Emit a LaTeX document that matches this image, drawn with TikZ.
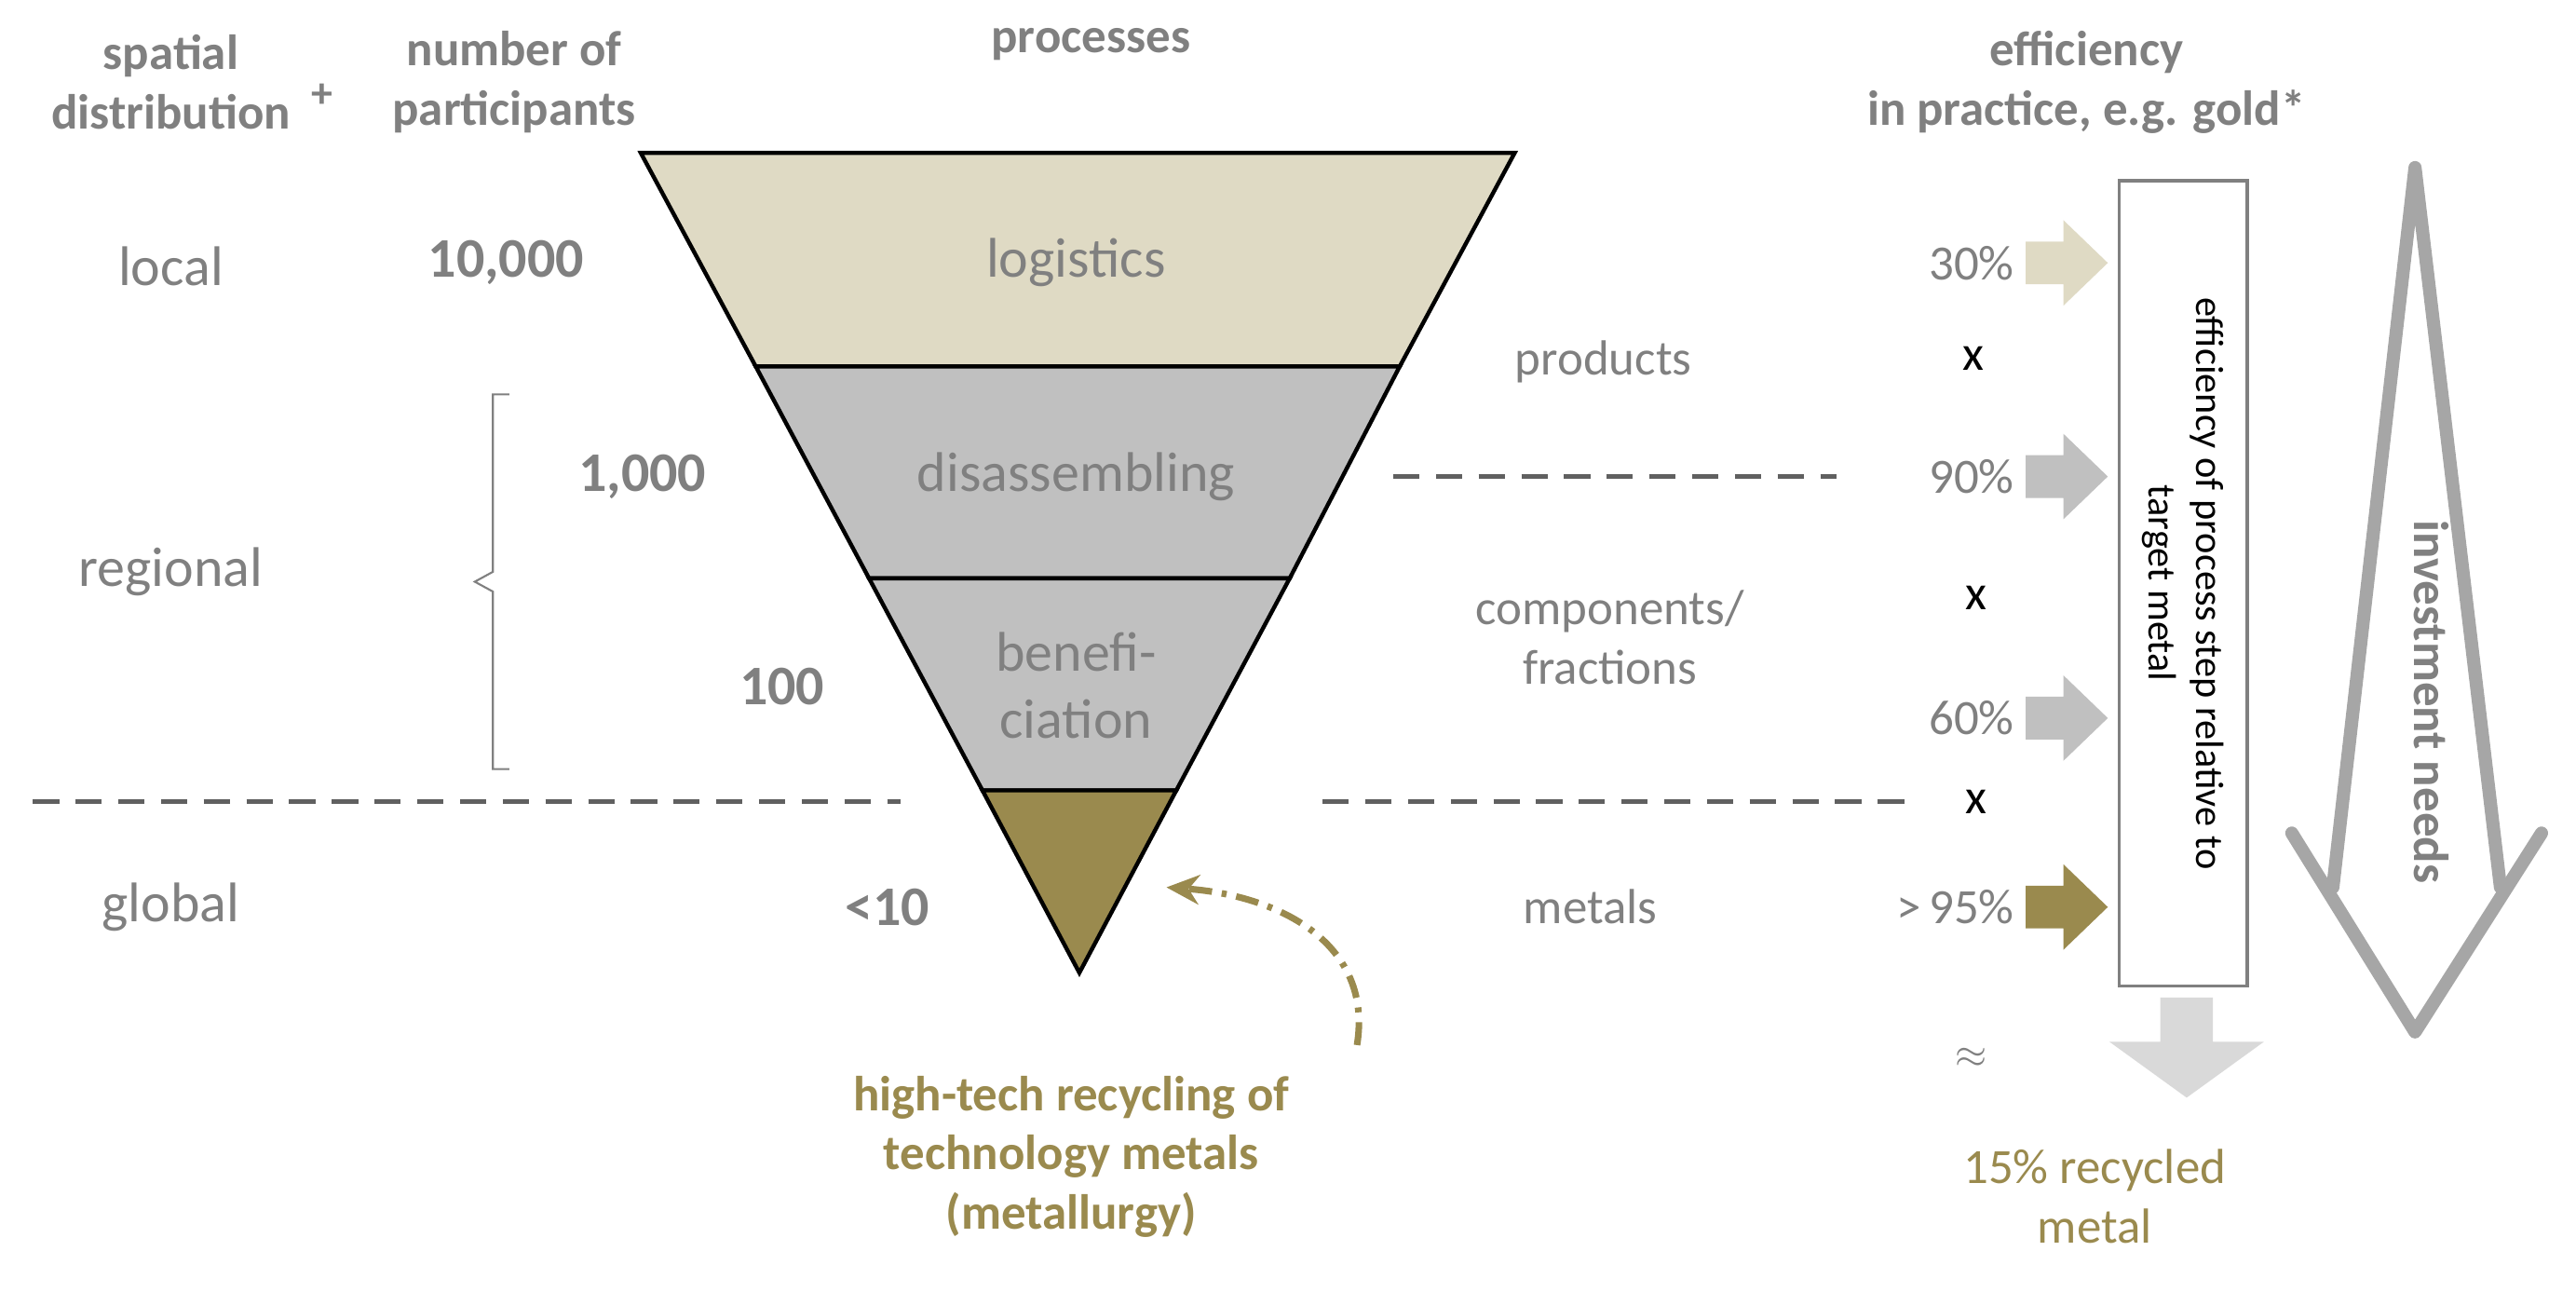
\documentclass[tikz,border=0pt]{standalone}
\usepackage{fontspec}
\setmainfont{Carlito}
\usetikzlibrary{arrows.meta}
\definecolor{tg}{HTML}{808080}
\definecolor{beige}{HTML}{DFDAC4}
\definecolor{mid}{HTML}{C0C0C0}
\definecolor{olive}{HTML}{9A8A4E}
\definecolor{dashc}{HTML}{606060}
\definecolor{big}{HTML}{A6A6A6}
\definecolor{light}{HTML}{D9D9D9}
\newcommand{\fs}[1]{\fontsize{#1pt}{\dimexpr #1pt*12/10\relax}\selectfont}
\tikzset{
 every node/.style={inner sep=0pt,outer sep=0pt},
 lab/.style={text=tg,font=\fs{34}},
 head/.style={text=tg,font=\fs{30}\bfseries,align=center},
 num/.style={text=tg,font=\fs{34}\bfseries},
 rt/.style={text=tg,font=\fs{30}},
 pc/.style={text=tg,font=\fs{30},anchor=east},
 xx/.style={text=black,font=\fs{30}},
 dl/.style={draw=dashc,line width=3pt,dash pattern=on 16pt off 10pt},
 band/.style={draw=black,line width=2.5pt,line join=miter},
}
\begin{document}
\begin{tikzpicture}[x=1pt,y=-1pt]
\useasboundingbox (0,0) rectangle (1568,786);
% funnel
\coordinate (A) at (390,93); \coordinate (B) at (922,93);
\coordinate (C) at (852,223); \coordinate (D) at (460,223);
\coordinate (E) at (785,352); \coordinate (F) at (529,352);
\coordinate (G) at (716,481); \coordinate (H) at (598,481);
\coordinate (P) at (657,592);
\filldraw[band,fill=beige] (A)--(B)--(C)--(D)--cycle;
\filldraw[band,fill=mid] (D)--(C)--(E)--(F)--cycle;
\filldraw[band,fill=mid] (F)--(E)--(G)--(H)--cycle;
\filldraw[band,fill=olive] (H)--(G)--(P)--cycle;
\node[lab] (logi) at (655,160) {logistics};
\node[lab] (dis) at (655,290) {disassembling};
\node[lab,align=center] (ben) at (655,417) {benefi-\\ciation};
% headers
\node[head] (h1) at (104,50) {spatial\\distribution};
\node[text=tg,font=\fs{26}\bfseries] (plus) at (196,58) {+};
\node[head] (h2) at (313,50) {number of\\participants};
\node[head] (h3) at (664,27) {processes};
\node[head] (h4) at (1270,50) {efficiency\\in practice, e.g. gold*};
% left
\node[lab] (loc) at (104,162) {local};
\node[lab] (reg) at (104,348) {regional};
\node[lab] (glo) at (104,552) {global};
\node[num] (n1) at (308,160) {10,000};
\node[num] (n2) at (391,290) {1,000};
\node[num] (n3) at (476,418) {100};
\node[num] (n4) at (540,552) {<10};
\draw[tg,line width=1.2pt] (310,240) -- (300,240) -- (300,348) -- (289,354) -- (300,360) -- (300,468) -- (310,468);
% dashed lines
\draw[dl] (20,488) -- (548,488);
\draw[dl] (805,488) -- (1160,488);
\draw[dl] (848,290) -- (1118,290);
% right labels
\node[rt] (prod) at (976,220) {products};
\node[rt,align=center] (comp) at (980,388) {components/\\fractions};
\node[rt] (met) at (968,552) {metals};
\node[pc] (p1) at (1226,160) {30\%};
\node[pc] (p2) at (1226,290) {90\%};
\node[pc] (p3) at (1226,437) {60\%};
\node[pc] (p4) at (1226,552) {>\,95\%};
\node[xx] (x1) at (1201,218) {x};
\node[xx] (x2) at (1203,364) {x};
\node[xx] (x3) at (1203,488) {x};
% block arrows
\foreach \y/\c in {160/beige,290/mid,437/mid,552/olive}{
 \fill[\c] (1233,\y-13) -- (1256,\y-13) -- (1256,\y-26) -- (1283,\y) -- (1256,\y+26) -- (1256,\y+13) -- (1233,\y+13) -- cycle;
}
% box
\node[draw=tg,line width=2pt,minimum width=78pt,minimum height=490pt] (box) at (1329,355) {};
\node[rotate=-90,font=\fs{24},align=center,text=black] (boxt) at (1329,355) {efficiency of process step relative to\\target metal};
% big arrow
\draw[big,line width=8pt,line cap=round,line join=round] (1395,507) -- (1470,628) -- (1547,507);
\draw[big,line width=8pt,line cap=round,line join=round] (1420,540) -- (1470,102) -- (1522,540);
\node[rotate=-90,text=tg,font=\fs{30}\bfseries] (inv) at (1480,427) {investment needs};
% bottom
\fill[light] (1315,607) -- (1347,607) -- (1347,634) -- (1378,634) -- (1331,668) -- (1284,634) -- (1315,634) -- cycle;
\node[text=tg,font=\fs{34}] (approx) at (1200,644) {$\approx$};
\node[text=olive,font=\fs{30},align=center] (rec) at (1275,728) {15\% recycled\\metal};
\node[text=olive,font=\fs{30}\bfseries,align=center] (ht) at (652,704) {high-tech recycling of\\technology metals\\(metallurgy)};
\coordinate (cs) at (826,636);
\coordinate (ce) at (710,540);
\draw[olive,line width=4pt,dash pattern=on 14pt off 6pt on 3pt off 6pt,-{Stealth[length=20pt,width=18pt]}] (cs) .. controls (836,575) and (780,545) .. (ce);
\end{tikzpicture}
\end{document}
